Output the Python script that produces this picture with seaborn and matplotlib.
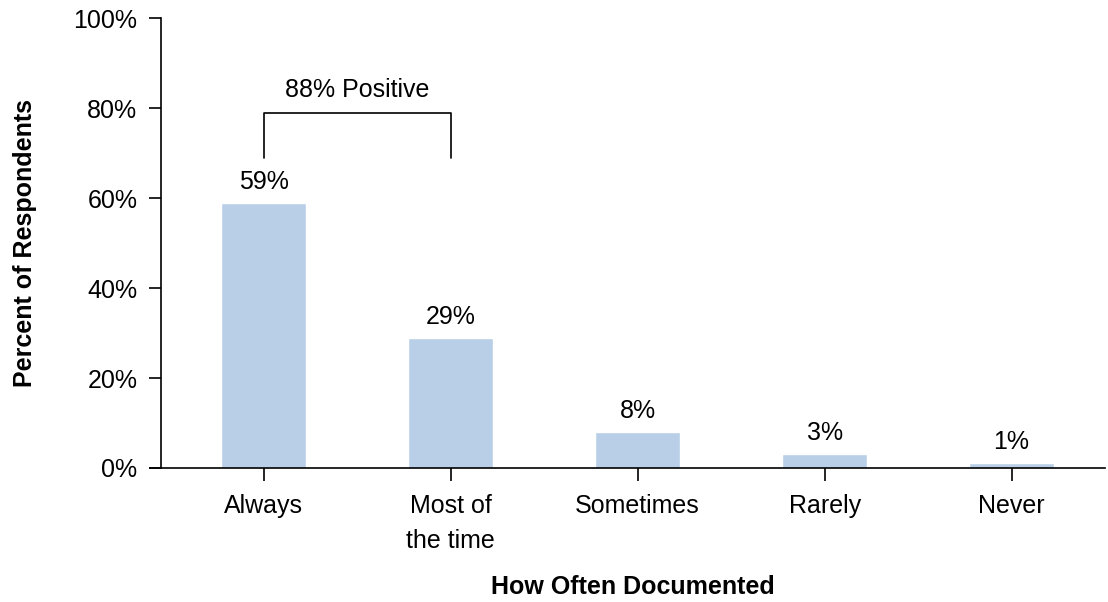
import matplotlib
matplotlib.use("Agg")
import matplotlib.pyplot as plt
import seaborn as sns
import pandas as pd

categories = ["Always", "Most of\nthe time", "Sometimes", "Rarely", "Never"]
percents = [59, 29, 8, 3, 1]
y_ticks = [0, 20, 40, 60, 80, 100]
bracket_label = "88% Positive"

sns.set_theme(style="white")
plt.rcParams["font.family"] = ["Liberation Sans", "DejaVu Sans"]

FS = 18

df = pd.DataFrame({"category": categories, "percent": percents})

fig = plt.figure(figsize=(11.08, 6.02), dpi=100)
ax = fig.add_axes([0.1453, 0.2226, 0.852, 0.7474])

sns.barplot(data=df, x="category", y="percent", color="#B9CFE7",
            saturation=1, width=0.455, ax=ax)

ax.set_xlim(-0.55, 4.5)
ax.set_ylim(0, 100)
ax.set_yticks(y_ticks)
ax.set_yticklabels([f"{v}%" for v in y_ticks])

for s in ["top", "right"]:
    ax.spines[s].set_visible(False)
for s in ["left", "bottom"]:
    ax.spines[s].set_color("black")
    ax.spines[s].set_linewidth(1.2)
ax.spines["bottom"].set_bounds(-0.61, 4.5)
ax.tick_params(axis="both", which="both", length=9, width=1.2, color="black",
               labelsize=FS, labelcolor="black", pad=10,
               left=True, bottom=True)
ax.tick_params(axis="y", pad=8)
for lbl in ax.get_xticklabels():
    lbl.set_linespacing(1.55)

# value labels above bars
for i, v in enumerate(percents):
    ax.text(i, v + 2.0, f"{v}%", ha="center", va="bottom", fontsize=FS, color="black")

# bracket over the first two bars
bx0, bx1 = 0, 1
ax.plot([bx0, bx0, bx1, bx1], [69, 79, 79, 69], color="black", lw=1.2,
        clip_on=False)
ax.text((bx0 + bx1) / 2, 81.3, bracket_label, ha="center", va="bottom",
        fontsize=FS, color="black")

ax.set_xlabel("How Often Documented", fontsize=FS, fontweight="bold",
              color="black", labelpad=16)
ax.set_ylabel("Percent of Respondents", fontsize=FS, fontweight="bold",
              color="black", labelpad=26)

fig.savefig("out.png", dpi=100)
